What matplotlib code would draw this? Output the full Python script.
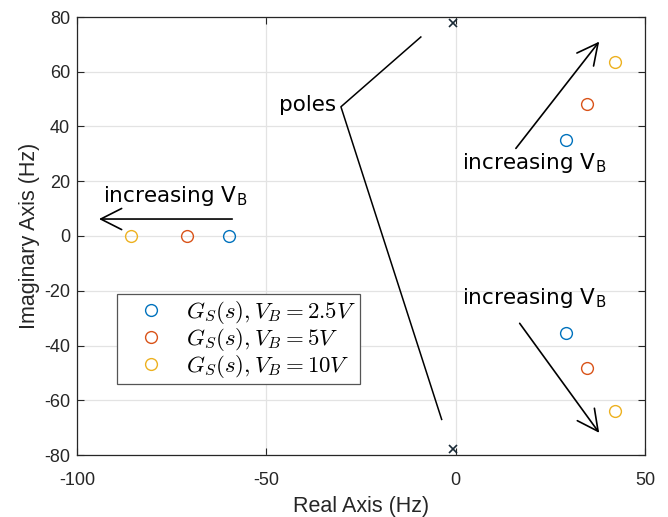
import matplotlib
matplotlib.use("Agg")
import matplotlib.pyplot as plt

plt.rcParams['axes.unicode_minus'] = False
plt.rcParams['mathtext.fontset'] = 'cm'

# Data (Hz)
labels = [r'$G_S(s), V_B = 2.5V$', r'$G_S(s), V_B = 5V$', r'$G_S(s), V_B = 10V$']
colors = ['#0072BD', '#D95319', '#EDB120']
real_parts = [[-59.8, 29.2, 29.2], [-70.9, 34.6, 34.6], [-85.7, 42.1, 42.1]]
imag_parts = [[0.0, 35.1, -35.3], [0.0, 48.1, -48.3], [0.0, 63.6, -63.8]]
x_real = [-0.8, -0.8]
x_imag = [77.7, -77.9]

xticks = [-100, -50, 0, 50]
yticks = [-80, -60, -40, -20, 0, 20, 40, 60, 80]

fig = plt.figure(figsize=(6.68, 5.17), dpi=100)
ax = fig.add_axes([77/668, 1-455/517, 568/668, 438/517])

for re, im, c, lab in zip(real_parts, imag_parts, colors, labels):
    ax.plot(re, im, linestyle='none', marker='o', markersize=8.5,
            markerfacecolor='none', markeredgecolor=c, markeredgewidth=1.0, label=lab)
ax.plot(x_real, x_imag, linestyle='none', marker='x', markersize=6,
        color='#1a2a36', markeredgewidth=1.2)

ax.set_xlim(-100, 50)
ax.set_ylim(-80, 80)
ax.set_xticks(xticks)
ax.set_yticks(yticks)
ax.grid(True, color='#e3e3e3', linewidth=0.9)
ax.set_axisbelow(True)
ax.tick_params(direction='in', top=True, right=True, length=5, width=0.8,
               labelsize=13, labelcolor='#262626', color='#262626')
ax.tick_params(axis='x', pad=12)
ax.tick_params(axis='y', pad=5)
for lbl in ax.get_xticklabels() + ax.get_yticklabels():
    lbl.set_family('Liberation Sans')
for s in ax.spines.values():
    s.set_color('#262626')
    s.set_linewidth(0.9)

ax.set_xlabel('Real Axis (Hz)', fontsize=15.5, family='Liberation Sans', color='#262626', labelpad=5)
ax.set_ylabel('Imaginary Axis (Hz)', fontsize=15.5, family='Liberation Sans', color='#262626', labelpad=3)

# annotations
txt_kw = dict(fontsize=15.5, family='DejaVu Sans', color='black')
ax.text(-93.2, 14.5, r'increasing V$_\mathregular{B}$', ha='left', va='center', **txt_kw)
ax.text(1.6, 26.5, r'increasing V$_\mathregular{B}$', ha='left', va='center', **txt_kw)
ax.text(1.6, -22.5, r'increasing V$_\mathregular{B}$', ha='left', va='center', **txt_kw)
ax.text(-31.5, 47.8, 'poles', ha='right', va='center', **txt_kw)

ax.plot([-9.2, -30.3, -3.7], [72.7, 47.2, -67.0], color='black', linewidth=1.1)

akw = dict(arrowstyle='->,head_length=0.75,head_width=0.38', color='black',
           lw=1.2, shrinkA=0, shrinkB=0, mutation_scale=20)
ax.annotate('', xy=(-94.2, 6.2), xytext=(-59.0, 6.2), arrowprops=akw)
ax.annotate('', xy=(37.9, 71.0), xytext=(15.9, 32.0), arrowprops=akw)
ax.annotate('', xy=(37.9, -71.9), xytext=(16.9, -31.9), arrowprops=akw)

leg = ax.legend(loc='upper left', bbox_to_anchor=((117-77)/568, (455-294)/438),
                fontsize=16.5, frameon=True, fancybox=False, edgecolor='#555555',
                framealpha=1, borderpad=0.2, handlelength=2.6, handletextpad=0.2,
                labelspacing=0.0, borderaxespad=0)
leg.get_frame().set_linewidth(0.9)

fig.savefig('out.png', dpi=100)
